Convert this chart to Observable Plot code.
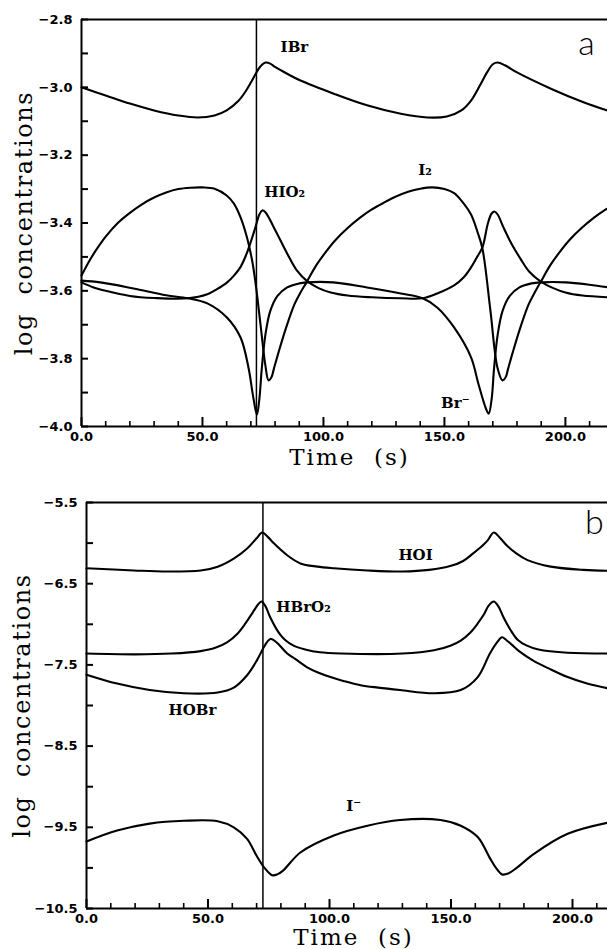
<!DOCTYPE html>
<html><head><meta charset="utf-8">
<script src="https://cdn.jsdelivr.net/npm/d3@7"></script>
<script src="https://cdn.jsdelivr.net/npm/@observablehq/plot@0.6"></script>
<style>
html,body{margin:0;padding:0;background:#fff;overflow:hidden;}
#chart svg{display:block;}
</style></head><body><div id="chart"></div>
<script>
// ---- Panel a: [time (s), log concentration]
const IBr = [[0,-3.000],[10,-3.024],[20,-3.048],[30,-3.068],[40,-3.083],[48,-3.089],[55,-3.083],[60,-3.068],[65,-3.039],[68,-3.010],[70,-2.986],[72,-2.960],[74,-2.938],[76,-2.927],[78,-2.930],[80,-2.940],[85,-2.960],[90.5,-2.980],[104,-3.018],[118,-3.053],[132,-3.078],[143,-3.089],[151,-3.086],[157,-3.068],[161,-3.039],[165,-2.990],[167.6,-2.956],[170,-2.932],[172,-2.927],[175,-2.935],[180,-2.956],[194,-3.004],[207.5,-3.044],[218,-3.070]];
const I2 = [[0,-3.555],[3,-3.515],[6,-3.480],[10,-3.440],[15,-3.400],[20,-3.370],[25,-3.345],[30,-3.325],[35,-3.310],[40,-3.300],[45,-3.296],[50,-3.295],[55,-3.299],[60,-3.319],[63,-3.343],[65.7,-3.383],[68.4,-3.443],[70.5,-3.510],[72,-3.580],[74,-3.700],[76,-3.820],[77.3,-3.864],[78.5,-3.855],[79.5,-3.830],[81.5,-3.780],[84.5,-3.710],[88,-3.640],[90.5,-3.605],[93,-3.575],[97,-3.525],[101,-3.485],[105,-3.450],[110,-3.415],[115,-3.385],[120,-3.360],[125,-3.340],[130,-3.322],[135,-3.308],[140,-3.299],[145,-3.295],[150,-3.300],[154,-3.312],[157,-3.334],[161,-3.375],[163.6,-3.425],[165.7,-3.475],[169,-3.658],[171.9,-3.826],[174,-3.864],[175.3,-3.855],[176.3,-3.830],[178.3,-3.780],[181.3,-3.710],[184.8,-3.640],[187.3,-3.605],[189.7,-3.575],[193.7,-3.525],[197.7,-3.485],[201.7,-3.450],[206.7,-3.415],[211.7,-3.385],[216.7,-3.360],[219,-3.350]];
const HIO2 = [[0,-3.575],[5,-3.590],[10,-3.600],[20,-3.615],[30,-3.621],[44,-3.622],[52,-3.610],[56,-3.595],[60.2,-3.575],[63,-3.555],[65.7,-3.530],[68,-3.495],[70,-3.455],[72,-3.410],[73.5,-3.375],[74.7,-3.363],[76,-3.368],[79.5,-3.413],[85,-3.490],[89,-3.540],[93,-3.570],[98,-3.592],[103,-3.605],[110,-3.614],[120,-3.619],[132,-3.622],[141,-3.622],[147,-3.608],[154,-3.584],[158,-3.560],[161,-3.531],[163.5,-3.500],[165.7,-3.472],[168,-3.400],[169.5,-3.372],[170.7,-3.366],[172,-3.375],[174.4,-3.413],[178,-3.465],[181.4,-3.505],[185,-3.543],[189.7,-3.572],[195,-3.592],[200,-3.605],[207,-3.614],[218,-3.619]];
const BrMinus = [[0,-3.570],[7.8,-3.575],[21.5,-3.593],[35,-3.613],[44,-3.622],[52,-3.637],[60,-3.678],[65.7,-3.737],[69,-3.826],[71,-3.914],[72.5,-3.965],[73.5,-3.920],[74.5,-3.830],[76,-3.730],[78,-3.660],[81,-3.615],[85,-3.590],[90,-3.578],[93,-3.575],[104,-3.575],[118,-3.590],[132,-3.608],[141,-3.622],[147,-3.649],[154,-3.708],[161,-3.796],[164,-3.873],[167,-3.944],[168.3,-3.962],[169.5,-3.920],[170.5,-3.830],[172,-3.730],[174,-3.660],[177,-3.615],[181,-3.590],[186,-3.578],[190,-3.575],[200,-3.575],[210,-3.582],[218,-3.590]];

// ---- Panel b
const HOI = [[0,-6.309],[19.5,-6.337],[33,-6.350],[47,-6.337],[54,-6.290],[60.6,-6.190],[66,-6.070],[70,-5.940],[72.3,-5.870],[74.5,-5.920],[77,-6.000],[82.6,-6.150],[88,-6.250],[95,-6.290],[101.8,-6.310],[115.6,-6.337],[130,-6.350],[141,-6.330],[150,-6.280],[155,-6.220],[159,-6.130],[163,-6.030],[165,-5.970],[167.6,-5.870],[170,-5.930],[173,-6.030],[177,-6.130],[181.5,-6.210],[191,-6.290],[204.5,-6.330],[215,-6.340]];
const HBrO2 = [[0,-7.36],[20,-7.37],[35,-7.36],[47,-7.33],[53,-7.29],[58,-7.22],[62,-7.12],[65.4,-6.99],[68.5,-6.85],[70.5,-6.76],[72,-6.72],[73.5,-6.77],[75.7,-6.92],[78,-7.05],[79.8,-7.13],[82,-7.20],[85,-7.26],[90,-7.31],[96,-7.345],[105,-7.36],[130,-7.36],[143,-7.32],[150,-7.26],[154,-7.20],[158,-7.10],[161,-6.99],[163.5,-6.88],[165.5,-6.77],[167.6,-6.72],[169.5,-6.78],[171.7,-6.92],[174.5,-7.07],[177.4,-7.19],[181,-7.26],[186,-7.31],[198,-7.35],[215,-7.36]];
const HOBr = [[0,-7.62],[12.6,-7.73],[26,-7.81],[40,-7.85],[54,-7.84],[60.6,-7.78],[66,-7.63],[70,-7.45],[73,-7.28],[74.5,-7.21],[75.7,-7.18],[77.3,-7.20],[79.5,-7.26],[82.6,-7.36],[86,-7.43],[90.8,-7.53],[95,-7.59],[100.4,-7.65],[106,-7.70],[112.8,-7.75],[120,-7.78],[129,-7.81],[143,-7.85],[154,-7.81],[161,-7.65],[166,-7.36],[169,-7.22],[171,-7.16],[172.6,-7.19],[175,-7.25],[178,-7.33],[184,-7.45],[190,-7.54],[198,-7.65],[206,-7.73],[215,-7.79]];
const IMinus = [[0,-9.675],[12.6,-9.54],[26,-9.455],[40,-9.42],[54,-9.425],[60.6,-9.50],[66,-9.64],[70,-9.85],[73,-9.99],[76.4,-10.09],[78.5,-10.08],[81,-10.03],[88,-9.81],[101.8,-9.60],[115.6,-9.48],[129,-9.41],[145.7,-9.41],[154,-9.48],[161,-9.62],[166,-9.88],[168.5,-10.00],[171,-10.08],[173.5,-10.07],[177,-10.00],[184,-9.83],[198,-9.58],[215,-9.44]];

// ---- labels and ticks
const namesA = ["IBr", "HIO\u2082", "I\u2082", "Br\u207B"];
const namePosA = [[88,-2.883],[84,-3.31],[142,-3.245],[154.5,-3.93]];
const namesB = ["HOI", "HBrO\u2082", "HOBr", "I\u207B"];
const namePosB = [[135.4,-6.15],[89.3,-6.79],[43.6,-8.06],[110,-9.24]];
const xTicks = [0, 50, 100, 150, 200];
const xMinor = [10,20,30,40,60,70,80,90,110,120,130,140,160,170,180,190,210];
const yTicksA = [-2.8,-3.0,-3.2,-3.4,-3.6,-3.8,-4.0];
const yMinorA = [-2.9,-3.1,-3.3,-3.5,-3.7,-3.9];
const yTicksB = [-5.5,-6.5,-7.5,-8.5,-9.5,-10.5];
const yMinorB = [-6,-7,-8,-9,-10];
const markerA = 72.3, markerB = 72.6;
const xTitle = "Time  (s)", yTitle = "log  concentrations";

const fmt = d => (d < 0 ? "\u2212" : "") + Math.abs(d).toFixed(1);

function panel(o) {
  const plotW = o.width - o.marginLeft;
  const plotH = o.height - o.marginTop - o.marginBottom;
  const pxX = o.xMax / plotW;
  const pxY = (o.yDomain[1] - o.yDomain[0]) / plotH;
  const y0 = o.yDomain[0];
  const lineOpts = {x: d => d[0], y: d => d[1], curve: "catmull-rom", strokeWidth: 2.1, stroke: "black"};
  return Plot.plot({
    width: o.width, height: o.height,
    marginLeft: o.marginLeft, marginRight: 0, marginTop: o.marginTop, marginBottom: o.marginBottom,
    style: {fontFamily: "DejaVu Sans", fontSize: "13px", fontWeight: "bold", background: "white", color: "black"},
    x: {domain: [0, o.xMax], axis: null},
    y: {domain: o.yDomain, axis: null},
    marks: [
      Plot.axisY({ticks: o.yTicks, tickFormat: fmt, tickSize: 0, tickPadding: 9, fontSize: 13, fontWeight: "bold", fontFamily: "DejaVu Sans", label: null}),
      Plot.axisX({ticks: xTicks, tickFormat: d => d.toFixed(1), tickSize: 0, tickPadding: 5, fontSize: 13, fontWeight: "bold", fontFamily: "DejaVu Sans", label: null}),
      Plot.ruleX([o.marker], {strokeWidth: 1.5, stroke: "black"}),
      ...o.series.map(s => Plot.line(s, lineOpts)),
      Plot.text(o.names, {x: (d, i) => o.namePos[i][0], y: (d, i) => o.namePos[i][1], text: d => d,
        fontFamily: "DejaVu Serif", fontWeight: "bold", fontSize: 15, textAnchor: "middle", lineAnchor: "middle"}),
      Plot.text([o.tag], {x: o.tagPos[0], y: o.tagPos[1], text: d => d, fontFamily: "Lato", fontWeight: 300,
        fontSize: 34, textAnchor: "middle", lineAnchor: "bottom"}),
      Plot.text([xTitle], {frameAnchor: "bottom", text: d => d, dx: o.xTitleDx, dy: o.xTitleDy, fontFamily: "DejaVu Serif",
        fontWeight: "normal", fontSize: 23, textAnchor: "middle", lineAnchor: "bottom"}),
      Plot.text([yTitle], {frameAnchor: "left", text: d => d, dx: o.yTitleDx, rotate: -90, fontFamily: "DejaVu Serif",
        fontWeight: "normal", fontSize: 24, textAnchor: "middle", lineAnchor: "bottom"}),
      // frame and inward ticks, drawn last
      Plot.ruleX([0], {strokeWidth: 2, stroke: "black"}),
      Plot.ruleY([o.yDomain[0]], {strokeWidth: 2, stroke: "black"}),
      Plot.ruleY([o.yDomain[1]], {strokeWidth: 2, stroke: "black"}),
      Plot.ruleY(o.yTicks.concat(o.yMinor), {y: d => d, x1: 0, x2: 7 * pxX, strokeWidth: 2, stroke: "black"}),
      Plot.ruleX(xMinor, {x: d => d, y1: y0, y2: y0 + 5 * pxY, strokeWidth: 1.6, stroke: "black"}),
      Plot.ruleX(xTicks, {x: d => d, y1: y0, y2: y0 + 9 * pxY, strokeWidth: 2, stroke: "black"})
    ]
  });
}

const a = panel({width: 607, height: 475, marginLeft: 81, marginTop: 19, marginBottom: 49, xMax: 217.4,
  yDomain: [-4.0, -2.8], yTicks: yTicksA, yMinor: yMinorA, series: [IBr, I2, HIO2, BrMinus],
  names: namesA, namePos: namePosA, tag: "a", tagPos: [208.7, -2.906], marker: markerA, xTitleDx: 5, xTitleDy: 38, yTitleDx: -50});
const b = panel({width: 607, height: 474, marginLeft: 86, marginTop: 27, marginBottom: 41, xMax: 214.4,
  yDomain: [-10.5, -5.5], yTicks: yTicksB, yMinor: yMinorB, series: [HOI, HBrO2, HOBr, IMinus],
  names: namesB, namePos: namePosB, tag: "b", tagPos: [209, -5.882], marker: markerB, xTitleDx: 6.5, xTitleDy: 36, yTitleDx: -57});
document.getElementById("chart").append(a, b);
document.querySelectorAll("svg text").forEach(t => {
  if (t.textContent === xTitle) t.style.letterSpacing = "2px";
  if (t.textContent === yTitle) t.style.letterSpacing = "1.6px";
});
</script></body></html>
